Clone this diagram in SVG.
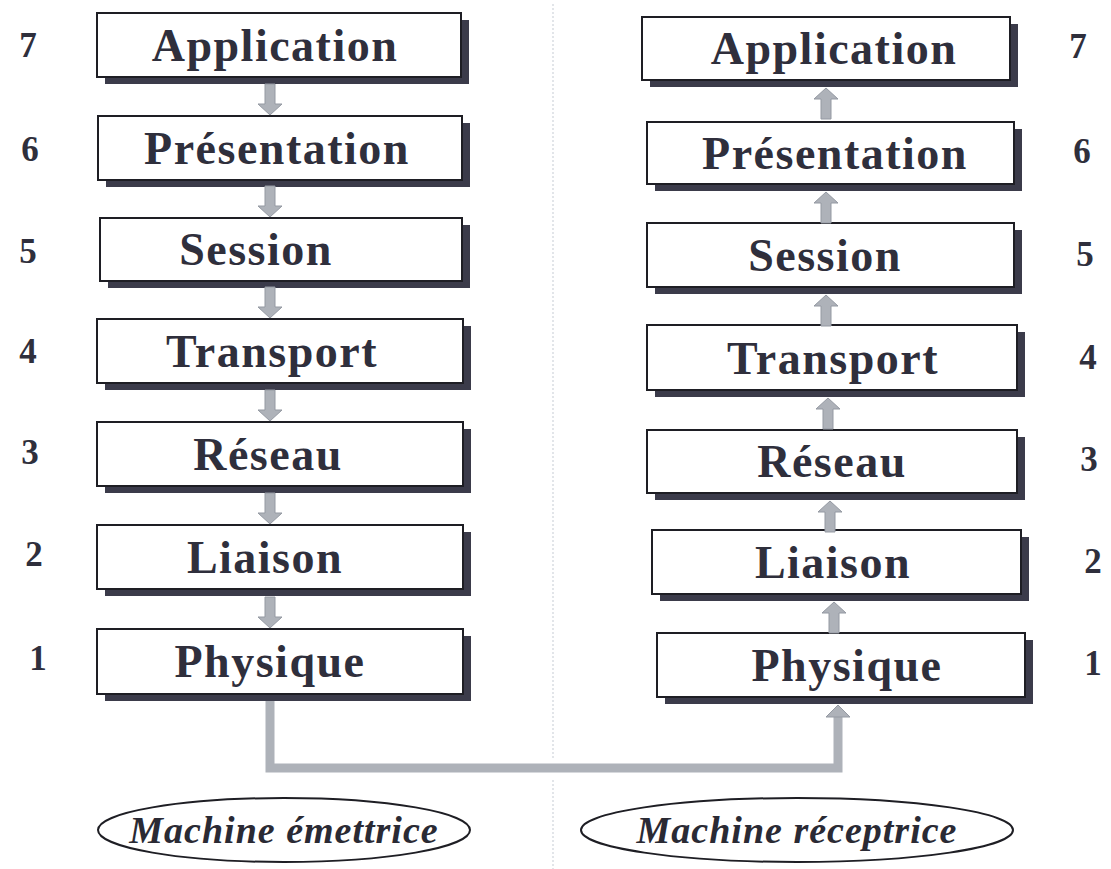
<svg xmlns="http://www.w3.org/2000/svg" width="1111" height="869" viewBox="0 0 1111 869">
  <defs>
    <style>
      .shadow { fill: #3b3b4a; }
      .box { fill: #ffffff; stroke: #1e1e24; stroke-width: 2; }
      .layer { font-family: "Liberation Serif", "Times New Roman", serif; font-weight: bold; font-size: 46px; letter-spacing: 1.5px; fill: #2f2f3c; text-anchor: middle; }
      .num { font-family: "Liberation Serif", "Times New Roman", serif; font-weight: bold; font-size: 35px; fill: #2f2f3c; text-anchor: middle; }
      .machine { font-family: "Liberation Serif", "Times New Roman", serif; font-weight: bold; font-style: italic; font-size: 38px; letter-spacing: 1px; fill: #2a2a34; text-anchor: middle; }
      .oval { fill: #ffffff; stroke: #1e1e24; stroke-width: 2; }
      .arrow { fill: #aeb2b9; stroke: #9499a2; stroke-width: 1; }
      .link { fill: none; stroke: #aeb2b9; stroke-width: 9; }
      .divider { stroke: #d9dde2; stroke-width: 1.5; stroke-dasharray: 2 2; }
    </style>
    <!-- down arrow, tip at (0,0) -->
    <path id="down" d="M -5 -31 H 5 V -11 H 12 L 0 0 L -12 -11 H -5 Z"/>
    <!-- up arrow, tip at (0,0) -->
    <path id="up" d="M -5 31 H 5 V 11 H 12 L 0 0 L -12 11 H -5 Z"/>
  </defs>

  <rect width="1111" height="869" fill="#ffffff"/>

  <!-- centre separation -->
  <line class="divider" x1="553" y1="4" x2="553" y2="760"/>
  <line class="divider" x1="553" y1="780" x2="553" y2="869"/>

  <!-- sending stack -->
  <g id="send-application">
    <rect class="shadow" x="105" y="20" width="364" height="64"/>
    <rect class="box" x="97" y="13" width="364" height="64"/>
    <text class="layer" x="275" y="61">Application</text>
    <text class="num" x="28" y="57">7</text>
  </g>
  <g id="send-presentation">
    <rect class="shadow" x="106" y="123" width="364" height="64"/>
    <rect class="box" x="98" y="116" width="364" height="64"/>
    <text class="layer" x="277" y="164">Présentation</text>
    <text class="num" x="30" y="161">6</text>
  </g>
  <g id="send-session">
    <rect class="shadow" x="108" y="225" width="362" height="63"/>
    <rect class="box" x="100" y="218" width="362" height="63"/>
    <text class="layer" x="256" y="265">Session</text>
    <text class="num" x="28" y="263">5</text>
  </g>
  <g id="send-transport">
    <rect class="shadow" x="105" y="326" width="366" height="64"/>
    <rect class="box" x="97" y="319" width="366" height="64"/>
    <text class="layer" x="272" y="367">Transport</text>
    <text class="num" x="28" y="363">4</text>
  </g>
  <g id="send-reseau">
    <rect class="shadow" x="105" y="429" width="366" height="64"/>
    <rect class="box" x="97" y="422" width="366" height="64"/>
    <text class="layer" x="268" y="470">Réseau</text>
    <text class="num" x="30" y="464">3</text>
  </g>
  <g id="send-liaison">
    <rect class="shadow" x="105" y="532" width="366" height="64"/>
    <rect class="box" x="97" y="525" width="366" height="64"/>
    <text class="layer" x="265" y="573">Liaison</text>
    <text class="num" x="34" y="566">2</text>
  </g>
  <g id="send-physique">
    <rect class="shadow" x="105" y="636" width="366" height="65"/>
    <rect class="box" x="97" y="629" width="366" height="65"/>
    <text class="layer" x="270" y="677">Physique</text>
    <text class="num" x="38" y="670">1</text>
  </g>

  <!-- receiving stack -->
  <g id="recv-application">
    <rect class="shadow" x="650" y="24" width="368" height="63"/>
    <rect class="box" x="642" y="17" width="368" height="63"/>
    <text class="layer" x="834" y="64">Application</text>
    <text class="num" x="1078" y="58">7</text>
  </g>
  <g id="recv-presentation">
    <rect class="shadow" x="655" y="129" width="367" height="62"/>
    <rect class="box" x="647" y="122" width="367" height="62"/>
    <text class="layer" x="835" y="169">Présentation</text>
    <text class="num" x="1082" y="163">6</text>
  </g>
  <g id="recv-session">
    <rect class="shadow" x="655" y="230" width="367" height="64"/>
    <rect class="box" x="647" y="223" width="367" height="64"/>
    <text class="layer" x="825" y="271">Session</text>
    <text class="num" x="1085" y="266">5</text>
  </g>
  <g id="recv-transport">
    <rect class="shadow" x="655" y="332" width="370" height="65"/>
    <rect class="box" x="647" y="325" width="370" height="65"/>
    <text class="layer" x="833" y="374">Transport</text>
    <text class="num" x="1088" y="369">4</text>
  </g>
  <g id="recv-reseau">
    <rect class="shadow" x="655" y="437" width="370" height="63"/>
    <rect class="box" x="647" y="430" width="370" height="63"/>
    <text class="layer" x="832" y="477">Réseau</text>
    <text class="num" x="1089" y="471">3</text>
  </g>
  <g id="recv-liaison">
    <rect class="shadow" x="660" y="537" width="369" height="64"/>
    <rect class="box" x="652" y="530" width="369" height="64"/>
    <text class="layer" x="833" y="578">Liaison</text>
    <text class="num" x="1093" y="573">2</text>
  </g>
  <g id="recv-physique">
    <rect class="shadow" x="665" y="640" width="368" height="64"/>
    <rect class="box" x="657" y="633" width="368" height="64"/>
    <text class="layer" x="847" y="681">Physique</text>
    <text class="num" x="1093" y="675">1</text>
  </g>

  <!-- machine captions -->
  <g id="machine-emettrice">
    <ellipse class="oval" cx="284" cy="830" rx="186" ry="32"/>
    <text class="machine" x="284" y="843">Machine émettrice</text>
  </g>
  <g id="machine-receptrice">
    <ellipse class="oval" cx="797" cy="830" rx="216" ry="32"/>
    <text class="machine" x="797" y="843">Machine réceptrice</text>
  </g>

  <!-- connectors -->
  <g id="connectors">
    <use href="#down" class="arrow" x="270" y="115"/>
    <use href="#down" class="arrow" x="270" y="217"/>
    <use href="#down" class="arrow" x="270" y="318"/>
    <use href="#down" class="arrow" x="270" y="421"/>
    <use href="#down" class="arrow" x="270" y="524"/>
    <use href="#down" class="arrow" x="270" y="628"/>

    <use href="#up" class="arrow" x="826" y="88"/>
    <use href="#up" class="arrow" x="826" y="192"/>
    <use href="#up" class="arrow" x="826" y="295"/>
    <use href="#up" class="arrow" x="828" y="398"/>
    <use href="#up" class="arrow" x="830" y="501"/>
    <use href="#up" class="arrow" x="834" y="602"/>

    <!-- physical medium between the two machines -->
    <path class="link" d="M 270 701 V 768 H 838 V 716"/>
    <path class="arrow" d="M 826 717 L 838 705 L 850 717 Z"/>
  </g>
</svg>
